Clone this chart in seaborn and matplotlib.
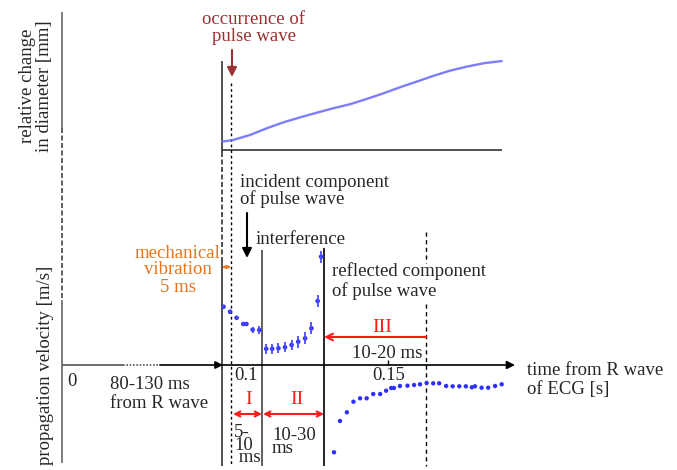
import matplotlib
matplotlib.use("Agg")
import matplotlib.pyplot as plt
import seaborn as sns

# ---- data -------------------------------------------------------------
# relative change in arterial diameter after the foot of the pulse wave
diam_t = [0.0972, 0.1007, 0.1061, 0.1114, 0.1167, 0.1220, 0.1273, 0.1326, 0.1379,
          0.1432, 0.1485, 0.1538, 0.1591, 0.1644, 0.1698, 0.1751, 0.1804, 0.1862]
diam_mm = [0.052, 0.063, 0.094, 0.136, 0.173, 0.204, 0.233, 0.261, 0.286,
           0.319, 0.354, 0.392, 0.427, 0.463, 0.496, 0.521, 0.542, 0.556]

# propagation velocity before the reflected wave arrives (mean +/- sd)
incident_t = [0.0976, 0.0997, 0.1018, 0.1039, 0.1049, 0.1069, 0.1090, 0.1112, 0.1131,
              0.1151, 0.1172, 0.1193, 0.1214, 0.1236, 0.1256, 0.1276, 0.1287]
incident_v = [5.83, 5.33, 4.72, 4.10, 4.10, 3.53, 3.50, 1.62, 1.62,
              1.68, 1.78, 2.00, 2.33, 2.67, 3.67, 6.40, 10.83]
incident_sd = [0.15, 0.15, 0.2, 0.2, 0.2, 0.3, 0.4, 0.5, 0.5,
               0.5, 0.5, 0.5, 0.6, 0.6, 0.6, 0.6, 0.6]

# propagation velocity of the reflected component
reflected_t = [0.1328, 0.1347, 0.1369, 0.1390, 0.1411, 0.1432, 0.1453, 0.1475, 0.1494,
               0.1510, 0.1519, 0.1538, 0.1562, 0.1583, 0.1602, 0.1623, 0.1644, 0.1663,
               0.1685, 0.1706, 0.1727, 0.1748, 0.1767, 0.1777, 0.1798, 0.1819, 0.1841,
               0.1862]
reflected_v = [-8.73, -5.60, -4.73, -3.67, -3.33, -3.33, -2.90, -2.90, -2.57,
               -2.30, -2.30, -2.10, -2.07, -2.00, -1.93, -1.80, -1.83, -1.83,
               -2.10, -2.13, -2.13, -2.13, -2.23, -2.13, -2.27, -2.27, -2.10,
               -1.93]

# ---- figure -----------------------------------------------------------
sns.set_theme(style="white")
plt.rcParams["font.family"] = ["Liberation Serif", "DejaVu Serif"]

W, H = 677, 470
fig = plt.figure(figsize=(W / 100, H / 100), dpi=100)

# drawing canvas for the schematic parts, in pixel units from the top-left
cv = fig.add_axes([0, 0, 1, 1])
cv.set_xlim(0, W)
cv.set_ylim(H, 0)
cv.axis("off")

# time axis: 0.1 s sits at x = 231 px, 3140 px per second (axis broken before)
T0, X0, PPS = 0.1, 231, 3140
xlim = (T0 - X0 / PPS, T0 + (W - X0) / PPS)

ax_d = fig.add_axes([0, 1 - 160 / H, 1, 120 / H])
ax_d.set_xlim(xlim)
ax_d.set_ylim(-10 / 160, 110 / 160)
ax_d.axis("off")

ax_v = fig.add_axes([0, 0, 1, 240 / H])
ax_v.set_xlim(xlim)
ax_v.set_ylim(-10.5, 13.5)
ax_v.axis("off")

BLUE = "#2f2fff"
DARKRED = "#9b3030"
ORANGE = "#e8731c"
RED = "#ff1a1a"


def seg(x0, y0, x1, y1, **kw):
    kw.setdefault("color", "#333333")
    kw.setdefault("lw", 1.2)
    cv.plot([x0, x1], [y0, y1], solid_capstyle="butt", **kw)


def arrow(x0, y0, x1, y1, style="-|>", color="black", lw=1.2, ms=12):
    cv.annotate("", xy=(x1, y1), xytext=(x0, y0),
                arrowprops=dict(arrowstyle=style, color=color, lw=lw,
                                mutation_scale=ms, shrinkA=0, shrinkB=0))


# left ordinate line (broken between the two panels)
seg(62, 12, 62, 128, color="#666666")
seg(62, 128, 62, 300, color="#444444", ls=(0, (3, 1.5)))
seg(62, 300, 62, 463, color="#666666")

# time axis with the break 80-130 ms
seg(62, 365, 123, 365, color="#555555")
seg(123, 365, 160, 365, color="#555555", ls=(0, (1, 1)))
arrow(160, 365, 223, 365, ms=11)
arrow(222, 365, 515, 365, ms=12)
seg(388, 360, 388, 365, color="black", lw=1.0)

# diameter panel baseline
seg(222, 150, 502, 150, color="#333333")

# guide lines
seg(222, 61, 222, 152, color="#333333")
seg(222, 152, 222, 258, color="#333333", ls=(0, (3, 1.5)))
seg(222, 258, 222, 466, color="#333333")
seg(231, 83, 231, 466, color="black", lw=1.0, ls=(0, (2, 2)))
seg(262, 250, 262, 466, color="#444444")
seg(324, 248, 324, 466, color="black")
seg(426, 232, 426, 263, color="black", lw=1.0, ls=(0, (3, 2.5)))
seg(426, 304, 426, 466, color="black", lw=1.0, ls=(0, (3, 2.5)))

# ---- data marks -------------------------------------------------------
sns.lineplot(x=diam_t, y=diam_mm, ax=ax_d, color="#6f6fff", lw=1.7, alpha=0.9)

ax_v.errorbar(incident_t, incident_v, yerr=incident_sd, fmt="none",
              ecolor="#4a4aff", elinewidth=1.3, capsize=0)
sns.scatterplot(x=incident_t, y=incident_v, ax=ax_v, s=11, color=BLUE,
                edgecolor="none", legend=False)
sns.scatterplot(x=reflected_t, y=reflected_v, ax=ax_v, s=10, color=BLUE,
                edgecolor="none", legend=False)

# ---- annotations ------------------------------------------------------
FS = 13.5
cv.text(36, 86, "relative change\nin diameter [mm]", rotation=90,
        ha="center", va="center", fontsize=FS, linespacing=0.95)
cv.text(46, 365, "propagation velocity [m/s]", rotation=90,
        ha="center", va="center", fontsize=FS)

cv.text(254, 28, "occurrence of\npulse wave", ha="center", va="center",
        color=DARKRED, fontsize=FS, linespacing=1.03)
arrow(232, 50, 232, 77, color=DARKRED, lw=1.5, ms=14)

cv.text(240, 191, "incident component\nof pulse wave", ha="left", va="center",
        fontsize=FS, linespacing=0.95)
arrow(247, 213, 247, 258, lw=1.5, ms=14)
cv.text(256, 240, "interference", ha="left", va="center", fontsize=FS)

cv.text(178, 270, "mechanical\nvibration\n5 ms", ha="center", va="center",
        color=ORANGE, fontsize=FS, linespacing=1.0)
arrow(222, 267, 231, 267, style="<->", color=ORANGE, lw=1.0, ms=5)

cv.text(332, 281, "reflected component\nof pulse wave", ha="left", va="center",
        fontsize=FS, linespacing=1.1)

arrow(426, 337, 324, 337, style="->", color=RED, lw=1.5, ms=12)
cv.text(382, 327, "III", ha="center", va="center", color=RED, fontsize=14)
cv.text(387, 353, "10-20 ms", ha="center", va="center", fontsize=FS)

arrow(233, 414, 262, 414, style="<->", color=RED, lw=1.5, ms=9)
arrow(263, 414, 324, 414, style="<->", color=RED, lw=1.5, ms=9)
cv.text(249, 400, "I", ha="center", va="center", color=RED, fontsize=14)
cv.text(297, 400, "II", ha="center", va="center", color=RED, fontsize=14)

cv.text(234, 445, "5-\n10\n ms", ha="left", va="center", fontsize=FS,
        linespacing=0.68)
cv.text(272, 442, "10-30\nms", ha="left", va="center", fontsize=FS,
        linespacing=0.74)

cv.text(110, 394, "80-130 ms\nfrom R wave", ha="left", va="center",
        fontsize=FS, linespacing=1.13)
cv.text(72, 381, "0", ha="center", va="center", fontsize=FS)
cv.text(234, 375, "0.1", ha="left", va="center", fontsize=FS)
cv.text(389, 375, "0.15", ha="center", va="center", fontsize=FS)
cv.text(527, 380, "time from R wave\nof ECG [s]", ha="left", va="center",
        fontsize=FS, linespacing=1.23)

fig.savefig("out.png", dpi=100)
